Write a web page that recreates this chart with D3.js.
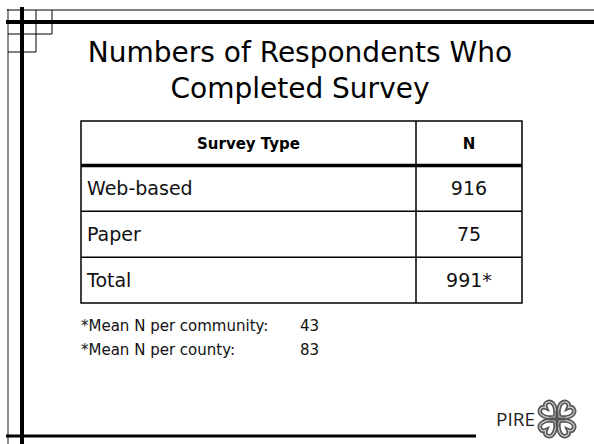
<!DOCTYPE html>
<html>
<head>
<meta charset="utf-8">
<script src="https://cdn.jsdelivr.net/npm/d3@7"></script>
<style>
  html, body { margin: 0; padding: 0; background: #fff; }
  svg { display: block; font-family: "DejaVu Sans", Verdana, sans-serif; }
</style>
</head>
<body>
<div id="slide"></div>
<script>
var titleLines = ["Numbers of Respondents Who", "Completed Survey"];
var headers = ["Survey Type", "N"];
var surveyTypes = ["Web-based", "Paper", "Total"];
var counts = ["916", "75", "991*"];
var noteLabels = ["*Mean N per community:", "*Mean N per county:"];
var noteValues = ["43", "83"];

var WIDTH = 594, HEIGHT = 444;

var svg = d3.select("#slide").append("svg")
    .attr("width", WIDTH)
    .attr("height", HEIGHT);

// frame lines of the slide template
var frame = svg.append("g").attr("id", "frame");
frame.append("line").attr("x1", 8).attr("x2", 8).attr("y1", 9).attr("y2", HEIGHT)
    .attr("stroke", "#666").attr("stroke-width", 1.5);
frame.append("line").attr("x1", 22).attr("x2", 22).attr("y1", 7).attr("y2", HEIGHT)
    .attr("stroke", "#000").attr("stroke-width", 4);
frame.append("line").attr("x1", 7).attr("x2", WIDTH).attr("y1", 10).attr("y2", 10)
    .attr("stroke", "#000").attr("stroke-width", 1);
frame.append("line").attr("x1", 6).attr("x2", WIDTH).attr("y1", 22).attr("y2", 22)
    .attr("stroke", "#000").attr("stroke-width", 4);
frame.append("line").attr("x1", 6).attr("x2", 476).attr("y1", 436).attr("y2", 436)
    .attr("stroke", "#000").attr("stroke-width", 3);

// little staircase of squares in the corner
var grid = [[8, 10, 52, 34], [8, 34, 36, 52]];
grid.forEach(function(g){
    frame.append("line").attr("x1", g[0]).attr("x2", g[2]).attr("y1", g[3]).attr("y2", g[3])
        .attr("stroke", "#000").attr("stroke-width", 1);
});
[[36, 10, 52], [52, 10, 34]].forEach(function(v){
    frame.append("line").attr("x1", v[0]).attr("x2", v[0]).attr("y1", v[1]).attr("y2", v[2])
        .attr("stroke", "#000").attr("stroke-width", 1);
});

// title
svg.append("g").selectAll("text")
    .data(titleLines).enter().append("text")
    .attr("x", 300)
    .attr("y", function(d, i){ return 62 + i * 36; })
    .attr("text-anchor", "middle")
    .attr("font-size", 28)
    .attr("fill", "#000")
    .text(function(d){ return d; });

// table
var TABLE_LEFT = 81, TABLE_RIGHT = 522, COL_DIV = 416,
    TABLE_TOP = 121, HEAD_BOTTOM = 165.5, TABLE_BOTTOM = 303;

var x = d3.scaleOrdinal().domain(headers).range([(TABLE_LEFT + COL_DIV) / 2, (COL_DIV + TABLE_RIGHT) / 2]);
var y = d3.scaleBand().domain(surveyTypes).range([HEAD_BOTTOM, TABLE_BOTTOM]);

var table = svg.append("g").attr("id", "table");

table.append("rect")
    .attr("x", TABLE_LEFT).attr("y", TABLE_TOP)
    .attr("width", TABLE_RIGHT - TABLE_LEFT).attr("height", TABLE_BOTTOM - TABLE_TOP)
    .attr("fill", "none").attr("stroke", "#000").attr("stroke-width", 1.5);

table.append("line")
    .attr("x1", COL_DIV).attr("x2", COL_DIV).attr("y1", TABLE_TOP).attr("y2", TABLE_BOTTOM)
    .attr("stroke", "#000").attr("stroke-width", 1.5);

table.append("line")
    .attr("x1", TABLE_LEFT).attr("x2", TABLE_RIGHT).attr("y1", HEAD_BOTTOM).attr("y2", HEAD_BOTTOM)
    .attr("stroke", "#000").attr("stroke-width", 3.5);

table.selectAll("line.row")
    .data(surveyTypes.slice(1)).enter().append("line")
    .attr("class", "row")
    .attr("x1", TABLE_LEFT).attr("x2", TABLE_RIGHT)
    .attr("y1", function(d){ return y(d); }).attr("y2", function(d){ return y(d); })
    .attr("stroke", "#000").attr("stroke-width", 1.5);

table.selectAll("text.head")
    .data(headers).enter().append("text")
    .attr("class", "head")
    .attr("x", function(d){ return x(d); })
    .attr("y", (TABLE_TOP + HEAD_BOTTOM) / 2 + 6)
    .attr("text-anchor", "middle")
    .attr("font-size", 15)
    .attr("font-weight", "bold")
    .text(function(d){ return d; });

table.selectAll("text.type")
    .data(surveyTypes).enter().append("text")
    .attr("class", "type")
    .attr("x", TABLE_LEFT + 6)
    .attr("y", function(d){ return y(d) + y.bandwidth() / 2 + 7; })
    .attr("font-size", 19)
    .attr("fill", "#111")
    .text(function(d){ return d; });

table.selectAll("text.count")
    .data(counts).enter().append("text")
    .attr("class", "count")
    .attr("x", x("N"))
    .attr("y", function(d, i){ return y(surveyTypes[i]) + y.bandwidth() / 2 + 7; })
    .attr("text-anchor", "middle")
    .attr("font-size", 19)
    .attr("fill", "#111")
    .text(function(d){ return d; });

// footnotes
var notes = svg.append("g").attr("id", "notes");
notes.selectAll("text.label")
    .data(noteLabels).enter().append("text")
    .attr("x", 81)
    .attr("y", function(d, i){ return 331 + i * 24; })
    .attr("font-size", 15)
    .attr("fill", "#111")
    .text(function(d){ return d; });
notes.selectAll("text.value")
    .data(noteValues).enter().append("text")
    .attr("x", 300)
    .attr("y", function(d, i){ return 331 + i * 24; })
    .attr("font-size", 15)
    .attr("fill", "#111")
    .text(function(d){ return d; });

// PIRE logo
var logo = svg.append("g").attr("id", "logo");
logo.append("text")
    .attr("x", 496).attr("y", 426)
    .attr("font-family", "'Open Sans', sans-serif")
    .attr("font-size", 19)
    .attr("fill", "#222")
    .text("PIRE");

var knot = logo.append("g").attr("transform", "translate(557,419) rotate(45)");
[0, 90, 180, 270].forEach(function(a){
    var loop = "M0,-3 C4,-5 8,-10 8,-14 C8,-19 2,-21 0,-16 C-2,-21 -8,-19 -8,-14 C-8,-10 -4,-5 0,-3";
    knot.append("path").attr("d", loop).attr("transform", "rotate(" + a + ")")
        .attr("fill", "none").attr("stroke", "#555").attr("stroke-width", 4.5);
    knot.append("path").attr("d", loop).attr("transform", "rotate(" + a + ")")
        .attr("fill", "none").attr("stroke", "#ccc").attr("stroke-width", 1.2);
});
knot.append("line").attr("x1", -6).attr("x2", 6).attr("y1", -6).attr("y2", 6)
    .attr("stroke", "#555").attr("stroke-width", 3);
knot.append("line").attr("x1", -6).attr("x2", 6).attr("y1", 6).attr("y2", -6)
    .attr("stroke", "#555").attr("stroke-width", 3);
</script>
</body>
</html>
